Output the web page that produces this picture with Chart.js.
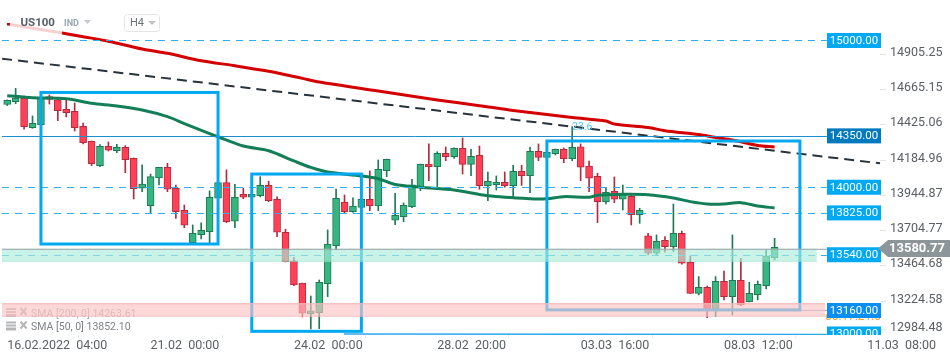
<!DOCTYPE html>
<html>
<head>
<meta charset="utf-8">
<title>US100 H4</title>
<script src="https://cdn.jsdelivr.net/npm/chart.js@4"></script>
<style>
  html, body { margin: 0; padding: 0; background: #fff; }
  canvas { display: block; }
</style>
</head>
<body>
<canvas id="chart" width="950" height="360"></canvas>
<script>
// candles, 4h bars
const opens = [14564,14583,14606,14406,14426,14617,14595,14531,14518,14415,14313,14147,14279,14249,14272,14197,13993,13874,14063,14136,13993,13843,13622,13677,13697,13925,14031,13768,13952,13932,13942,14013,13918,13693,13498,13346,13138,13145,13343,13602,13898,13833,13863,13918,13872,14113,13775,13799,13868,14000,14158,14140,14231,14208,14265,14156,14218,14011,14017,14034,14011,14109,14079,14245,14204,14229,14259,14195,14276,14145,14075,13902,13972,13918,13938,13813,13668,13550,13639,13595,13686,13489,13277,13318,13164,13359,13254,13366,13220,13268,13329,13520];
const highs = [14595,14674,14622,14486,14615,14629,14613,14595,14574,14438,14315,14290,14308,14293,14283,14199,14152,14090,14136,14163,14015,13879,13743,13758,13975,14049,14118,14020,13993,13952,14072,14041,13934,13714,13523,13346,13259,13368,13709,13988,13947,13927,13920,14111,14186,14192,13959,13893,14054,14158,14295,14242,14274,14268,14336,14259,14281,14104,14077,14104,14150,14150,14274,14295,14242,14261,14268,14413,14295,14179,14095,14000,14070,14015,13959,13857,13686,13675,13663,13886,13702,13532,13391,13327,13391,13429,13675,13516,13352,13361,13572,13652];
const lows = [14557,14569,14395,14402,14424,14567,14454,14479,14383,14295,14147,14140,14247,14235,14099,13920,13970,13823,14015,13970,13788,13724,13620,13648,13620,13925,13759,13724,13922,13932,13934,13902,13663,13491,13329,13116,13034,13036,13254,13572,13823,13829,13862,13840,13840,14072,13745,13765,13861,13977,14045,14000,14181,14197,14090,14079,13986,13908,13981,14000,13932,14013,13963,14181,14200,14220,14167,14181,14045,13970,13759,13886,13895,13845,13743,13754,13538,13538,13557,13561,13475,13276,13266,13111,13118,13232,13130,13193,13218,13232,13307,13504];
const closes = [14593,14608,14413,14436,14610,14599,14522,14508,14406,14304,14161,14279,14252,14272,14188,13990,14022,14072,14136,13986,13833,13741,13686,13707,13932,14031,13765,13932,13932,13952,14013,13908,13693,13493,13334,13141,13157,13352,13613,13925,13833,13872,13918,13874,14122,14191,13809,13877,14017,14156,14140,14231,14208,14265,14156,14211,14011,14041,14034,14011,14109,14079,14245,14204,14238,14259,14195,14272,14136,14061,13902,13966,13918,13959,13813,13843,13550,13632,13595,13686,13482,13277,13318,13168,13359,13254,13366,13200,13277,13339,13532,13591];

// moving averages (bar index, value)
const sma200Index = [0,6,9,12,16,19,23,27,31,35,37,44,51,56,60,67,71,72,76,78,82,84,86,89,91];
const sma200Values = [15112,15056,15026,14995,14942,14913,14862,14828,14790,14742,14717,14656,14595,14556,14523,14475,14451,14431,14407,14385,14359,14339,14322,14285,14274];
const sma50Index = [0,3,7,10,13,16,19,21,24,25,28,31,34,36,38,42,44,46,49,53,57,62,64,66,69,70,73,76,79,81,83,85,87,89,91];
const sma50Values = [14624,14610,14603,14572,14554,14526,14481,14434,14366,14344,14281,14249,14179,14135,14104,14077,14058,14019,14000,13981,13942,13922,13922,13936,13932,13945,13952,13949,13927,13902,13886,13886,13895,13872,13859];

// dashed trend line, runs edge to edge so it goes past the first and last bar
const trendIndex = [-0.6,103.5];
const trendValues = [14876,14163];

const barCount = 104;
const categories = Array.from({ length: barCount }, (_, i) => i);

const xTickIndex = [0,17,34,51,68,85,102];
const xTickLabels = ["16.02.2022  04:00","21.02  00:00","24.02  00:00","28.02  20:00","03.03  16:00","08.03  12:00","11.03  08:00"];
const yTickValues = [14905.25,14665.15,14425.06,14184.96,13944.87,13704.77,13464.68,13224.58,12984.48];
const yTickLabels = ["14905.25","14665.15","14425.06","14184.96","13944.87","13704.77","13464.68","13224.58","12984.48"];

// horizontal levels
const levelValues = [15000,14350,14000,13825,13540,13160,13000];
const levelLabels = ["15000.00","14350.00","14000.00","13825.00","13540.00","13160.00","13000.00"];
const levelColors = ["#00a9f2","#0079bd","#00a9f2","#00a9f2","#00a9f2","#0a8ff0","#00a9f2"];

const lastPrice = 13580.77;

// marked boxes: first bar, last bar, top, bottom
const boxStart = [4,29,64];
const boxEnd = [25,42,94];
const boxTop = [14646,14090,14315];
const boxBottom = [13613,13018,13164];

// zones: top, bottom, last bar
const zoneTop = [13580.77,13209];
const zoneBottom = [13500,13125];
const zoneEnd = [96,97];

const upFill = "#35b57f", upEdge = "#1d7a55";
const downFill = "#ff4057", downEdge = "#b52b3e";
const isUp = closes.map((c, i) => c >= opens[i]);

const overlay = {
  id: "overlay",
  afterDatasetsDraw(chart) {
    const c = chart.ctx, x = chart.scales.x, y = chart.scales.y, area = chart.chartArea;
    const X = (i) => x.getPixelForValue(i), Y = (v) => y.getPixelForValue(v);
    const rightEnd = X(97.2);

    c.save();
    c.beginPath();
    c.rect(0, 0, 950, area.bottom);
    c.clip();

    // trend line
    c.beginPath();
    c.strokeStyle = "#27323a";
    c.lineWidth = 2;
    c.setLineDash([10, 6]);
    c.moveTo(X(trendIndex[0]), Y(trendValues[0]));
    c.lineTo(X(trendIndex[1]), Y(trendValues[1]));
    c.stroke();

    // levels
    levelValues.forEach((v, i) => {
      c.beginPath();
      c.lineWidth = 1;
      const py = Math.round(Y(v)) + 0.5;
      if (v === 14350) {
        c.strokeStyle = "#1a8fd0"; c.setLineDash([]);
        c.moveTo(2, py);
      } else if (v === 13160) {
        c.strokeStyle = "#8fb4d6"; c.setLineDash([]);
        c.moveTo(X(94), py);
      } else if (v === 13000) {
        c.strokeStyle = "#2aa9ee"; c.setLineDash([]); c.lineWidth = 1.5;
        c.moveTo(344, py - 0.5);
      } else {
        c.strokeStyle = "#2db0f0"; c.setLineDash([7, 6]);
        c.moveTo(2, py);
      }
      c.lineTo(rightEnd, py);
      c.stroke();
    });
    c.setLineDash([]);

    // boxes
    c.strokeStyle = "#00a9f2";
    c.lineWidth = 3;
    boxStart.forEach((s, i) => {
      c.strokeRect(X(s), Y(boxTop[i]), X(boxEnd[i]) - X(s), Y(boxBottom[i]) - Y(boxTop[i]));
    });

    // sma captions, the zone sits over them
    c.font = "10.5px Roboto";
    c.textBaseline = "middle";
    c.textAlign = "left";
    [[314, "SMA [200, 0] 14263.61", "#a9aaac"], [327.5, "SMA [50, 0] 13852.10", "#7e8388"]].forEach((row) => {
      c.fillStyle = "#b4b6b8";
      c.fillRect(6, row[0] - 6, 10, 2); c.fillRect(6, row[0] - 3, 10, 2); c.fillRect(6, row[0], 10, 3);
      c.strokeStyle = "#b4b6b8"; c.lineWidth = 2;
      c.beginPath();
      c.moveTo(20.5, row[0] - 6); c.lineTo(26.5, row[0] + 1);
      c.moveTo(26.5, row[0] - 6); c.lineTo(20.5, row[0] + 1);
      c.stroke();
      c.fillStyle = row[2];
      c.fillText(row[1], 31, row[0]);
    });

    // zones
    c.fillStyle = "rgba(170,236,216,0.65)";
    c.fillRect(2, Y(zoneTop[0]), X(zoneEnd[0]) - 2, Y(zoneBottom[0]) - Y(zoneTop[0]));
    c.fillStyle = "#a0e6cf";
    c.fillRect(2, Y(zoneBottom[0]), X(zoneEnd[0]) - 2, 1);
    c.fillStyle = "rgba(250,195,195,0.65)";
    c.fillRect(2, Y(zoneTop[1]), X(zoneEnd[1]) - 2, Y(zoneBottom[1]) - Y(zoneTop[1]));
    c.fillStyle = "#f4b8b8";
    c.fillRect(2, Y(zoneTop[1]), X(zoneEnd[1]) - 2, 1);
    c.fillRect(2, Y(zoneBottom[1]), X(zoneEnd[1]) - 2, 1);

    // last price line
    c.fillStyle = "#98a0a5";
    c.fillRect(2, Y(lastPrice), 876, 1);

    // fib caption
    c.fillStyle = "#59c2f0";
    c.font = "10.5px Roboto";
    c.textAlign = "left";
    c.fillText("23.6", 572, 127);

    // countdown, only its lower edge shows under the 13160 tag
    c.save();
    c.beginPath();
    c.rect(825, 314, 55, 6);
    c.clip();
    c.fillStyle = "#f7a33c";
    c.font = "12px Roboto";
    c.textBaseline = "alphabetic";
    c.fillText("00:17:21:09", 825, 320);
    c.restore();

    // level tags
    c.font = "11.5px Roboto";
    c.textAlign = "center";
    c.textBaseline = "middle";
    levelValues.forEach((v, i) => {
      const py = Y(v);
      c.fillStyle = levelColors[i];
      c.fillRect(827, py - 7.5, 54, 15);
      c.fillStyle = "#fff";
      c.fillText(levelLabels[i], 854, py + 0.5);
    });
    c.restore();

    // last price tag
    c.save();
    const ly = 248.5;
    c.fillStyle = "#8c9599";
    c.beginPath();
    c.moveTo(878, ly);
    c.lineTo(888, 240); c.lineTo(950, 240); c.lineTo(950, 257); c.lineTo(888, 257);
    c.closePath();
    c.fill();
    c.fillStyle = "#fff";
    c.font = "bold 13px Roboto";
    c.textBaseline = "middle";
    c.textAlign = "left";
    c.fillText(lastPrice.toFixed(2), 889, ly + 0.5);

    // header over the chart, washes out the start of the red line
    c.fillStyle = "rgba(255,255,255,0.82)";
    c.fillRect(0, 14, 62, 22);
    c.fillStyle = "#d40000";
    c.fillRect(7, 23, 3, 2.5);
    c.fillStyle = "#555f69";
    c.font = "bold 11.5px Roboto";
    c.fillText("US100", 20.5, 23.5);
    c.fillStyle = "#9aa7b5";
    c.font = "bold 9px Roboto";
    c.fillText("IND", 64, 24);
    c.fillStyle = "#c5c8cc";
    c.beginPath(); c.moveTo(84, 20); c.lineTo(91, 20); c.lineTo(87.5, 24); c.fill();
    c.strokeStyle = "#e5e5e5"; c.lineWidth = 1;
    c.beginPath(); c.roundRect(124.5, 14.5, 35, 17, 3); c.stroke();
    c.fillStyle = "#6a7075";
    c.font = "11px Roboto";
    c.fillText("H4", 130, 23.5);
    c.fillStyle = "#c0c4c8";
    c.beginPath(); c.moveTo(148, 21); c.lineTo(156, 21); c.lineTo(152, 25); c.fill();
    c.restore();
  }
};

new Chart(document.getElementById("chart"), {
  data: {
    labels: categories,
    datasets: [
      {
        type: "line",
        data: sma200Index.map((x, i) => ({ x: x, y: sma200Values[i] })),
        borderColor: "#d40000", borderWidth: 3, pointRadius: 0, tension: 0.3, order: 2
      },
      {
        type: "line",
        data: sma50Index.map((x, i) => ({ x: x, y: sma50Values[i] })),
        borderColor: "#137e57", borderWidth: 3, pointRadius: 0, tension: 0.3, order: 2
      },
      {
        type: "bar",
        data: lows.map((l, i) => [l, highs[i]]),
        backgroundColor: isUp.map((u) => (u ? upEdge : downEdge)),
        barThickness: 1, grouped: false, order: 4
      },
      {
        type: "bar",
        data: opens.map((o, i) => [o, closes[i]]),
        backgroundColor: isUp.map((u) => (u ? upFill : downFill)),
        borderColor: isUp.map((u) => (u ? upEdge : downEdge)),
        borderWidth: 1, borderSkipped: false, barThickness: 7, grouped: false, order: 3
      }
    ]
  },
  options: {
    responsive: false,
    animation: false,
    layout: { padding: { left: 3 } },
    plugins: { legend: { display: false }, tooltip: { enabled: false } },
    scales: {
      x: {
        type: "category",
        offset: true,
        grid: { display: true, drawOnChartArea: false, tickLength: 3, tickColor: "#e6e6e6" },
        border: { display: false },
        ticks: {
          autoSkip: false, maxRotation: 0, minRotation: 0, align: "start", padding: 0,
          color: "#5a5f63", font: { family: "Roboto", size: 12.5 },
          callback: (v, i) => xTickLabels[i]
        },
        afterBuildTicks(s) { s.ticks = xTickIndex.map((v) => ({ value: v })); },
        afterFit(s) { s.height = 25; s.paddingLeft = 0; s.paddingRight = 0; }
      },
      y: {
        type: "linear",
        position: "right",
        min: 12993,
        max: 15276,
        grid: { display: true, drawOnChartArea: false, tickLength: 6, tickColor: "#e6e6e6" },
        border: { display: false },
        ticks: {
          padding: 4, labelOffset: -1.5, autoSkip: false,
          color: "#5a5f63", font: { family: "Roboto", size: 12.5 },
          callback: (v, i) => yTickLabels[i]
        },
        // lowest label gets pushed up so it stays clear of the time axis
        afterBuildTicks(s) { s.ticks = yTickValues.map((v) => ({ value: Math.max(v, 13030) })); },
        afterFit(s) { s.width = 70; s.paddingTop = 0; s.paddingBottom = 0; }
      }
    }
  },
  plugins: [overlay]
});
</script>
</body>
</html>
